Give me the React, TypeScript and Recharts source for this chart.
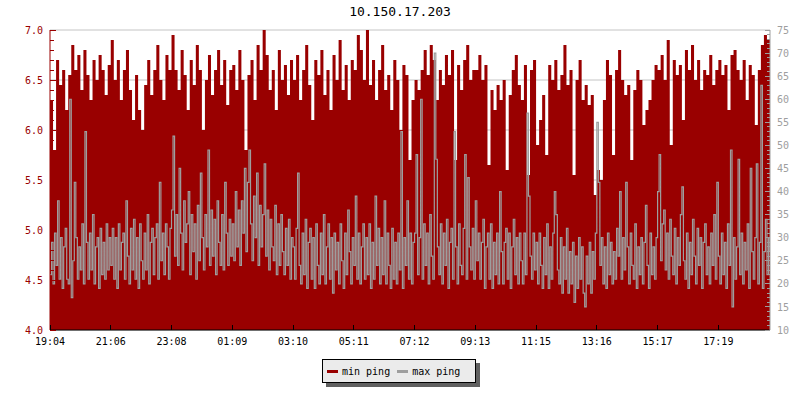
import React from 'react';
import { ComposedChart, Area, Line, XAxis, YAxis, CartesianGrid, Legend } from 'recharts';

const timeLabels = ['19:04', '21:06', '23:08', '01:09', '03:10', '05:11', '07:12', '09:13', '11:15', '13:16', '15:17', '17:19'];

// min ping (left axis, ms), one value per ~3 px step
const minPing = [
  6.3, 5.8, 6.7, 6.45, 6.6, 6.2, 6.55, 6.85, 6.6, 6.75, 6.4, 6.8, 6.55, 6.3, 6.7, 6.5, 6.75, 6.6, 6.35, 6.65,
  6.9, 6.5, 6.7, 6.3, 6.6, 6.8, 6.4, 6.1, 6.55, 6.2, 6.0, 6.45, 6.7, 6.35, 6.6, 6.85, 6.5, 6.3, 6.75, 6.6,
  6.95, 6.6, 6.4, 6.8, 6.55, 6.2, 6.7, 6.45, 6.85, 6.6, 6.0, 6.5, 6.75, 6.35, 6.6, 6.8, 6.45, 6.7, 6.25, 6.6,
  6.65, 6.4, 6.8, 6.5, 5.8, 6.55, 6.7, 6.3, 6.85, 6.6, 7.0, 6.75, 6.4, 6.6, 6.2, 6.8, 6.5, 6.65, 6.35, 6.7,
  6.5, 6.75, 6.3, 6.6, 6.85, 6.45, 6.1, 6.7, 6.55, 6.8, 6.35, 6.6, 6.2, 6.75, 6.5, 6.9, 6.4, 6.65, 6.3, 6.7,
  6.6, 6.95, 6.8, 6.5, 7.0, 6.45, 6.7, 6.3, 6.6, 6.85, 6.4, 6.55, 6.2, 6.7, 6.5, 6.0, 6.65, 6.55, 5.7, 6.3,
  6.5, 6.4, 6.6, 6.8, 6.55, 6.85, 6.7, 6.3, 6.6, 6.45, 6.75, 6.55, 6.8, 5.7, 6.65, 6.4, 6.7, 6.85, 6.5, 6.6,
  6.6, 6.75, 6.5, 6.65, 5.65, 6.4, 6.2, 6.45, 6.3, 6.5, 5.6, 6.35, 6.6, 6.75, 6.45, 6.3, 6.65, 5.55, 6.6, 6.7,
  5.85, 6.1, 6.35, 5.75, 6.65, 6.5, 6.7, 6.4, 6.55, 6.85, 6.45, 6.6, 5.55, 6.5, 6.7, 6.3, 6.45, 6.25, 6.35, 5.35,
  5.6, 5.5, 6.3, 6.7, 6.55, 5.75, 6.6, 6.8, 6.5, 6.35, 6.45, 5.7, 6.4, 6.6, 6.5, 6.05, 6.2, 6.3, 6.5, 6.65,
  6.6, 6.75, 6.5, 6.9, 5.85, 6.7, 6.55, 6.65, 6.1, 6.8, 6.6, 6.85, 6.5, 6.7, 6.4, 6.6, 6.55, 6.75, 6.45, 6.6,
  6.7, 6.55, 6.65, 6.2, 6.75, 6.8, 6.6, 6.5, 6.7, 6.3, 6.65, 6.55, 6.05, 6.6, 6.85, 6.95, 6.9, 6.7,
];

// max ping (right axis, ms), one value per ~1.5 px step
const maxPing = [
  22, 29, 20, 31, 24, 38, 21, 30, 19, 28, 32, 21, 20, 60, 17, 25, 42, 30, 21, 28,
  23, 33, 20, 53, 29, 21, 31, 23, 35, 20, 28, 30, 19, 32, 22, 29, 21, 33, 23, 30,
  24, 32, 21, 30, 19, 33, 23, 29, 31, 21, 38, 26, 20, 32, 23, 34, 21, 30, 19, 33,
  25, 21, 31, 23, 35, 20, 29, 32, 22, 30, 33, 21, 42, 25, 31, 22, 33, 28, 21, 32,
  36, 52, 26, 35, 24, 45, 31, 23, 38, 29, 33, 40, 22, 35, 27, 33, 21, 37, 25, 44,
  30, 23, 35, 28, 49, 24, 36, 26, 34, 22, 38, 29, 24, 35, 23, 42, 31, 24, 34, 26,
  33, 25, 40, 28, 36, 24, 38, 31, 45, 27, 42, 49, 33, 25, 39, 30, 44, 24, 37, 28,
  35, 46, 26, 36, 23, 34, 28, 25, 37, 22, 33, 24, 35, 27, 22, 32, 24, 34, 21, 30,
  28, 21, 32, 44, 24, 20, 31, 22, 34, 19, 29, 32, 21, 30, 19, 33, 24, 20, 31, 22,
  35, 20, 28, 33, 21, 30, 18, 31, 23, 29, 20, 33, 25, 19, 31, 22, 36, 27, 20, 30,
  24, 39, 21, 31, 20, 28, 33, 21, 30, 22, 33, 19, 29, 21, 39, 24, 32, 20, 30, 22,
  38, 20, 31, 24, 19, 32, 21, 29, 20, 31, 23, 53, 19, 30, 24, 38, 21, 31, 20, 29,
  31, 48, 22, 30, 60, 21, 33, 24, 31, 20, 35, 26, 21, 70, 47, 28, 22, 33, 20, 31,
  24, 34, 19, 29, 32, 21, 53, 28, 20, 33, 24, 22, 32, 48, 21, 43, 28, 23, 32, 21,
  38, 25, 31, 21, 29, 34, 19, 28, 31, 21, 33, 19, 29, 22, 31, 20, 40, 27, 20, 29,
  32, 21, 31, 19, 28, 34, 22, 30, 20, 31, 25, 20, 31, 22, 57, 39, 26, 21, 31, 23,
  29, 20, 31, 24, 19, 30, 22, 33, 19, 28, 21, 31, 40, 35, 23, 20, 30, 18, 28, 21,
  32, 18, 27, 20, 29, 16, 26, 19, 30, 21, 28, 18, 15, 26, 20, 29, 18, 27, 21, 31,
  55, 42, 24, 30, 20, 28, 19, 31, 22, 29, 20, 27, 21, 32, 26, 40, 21, 30, 23, 42,
  28, 20, 31, 24, 21, 33, 19, 28, 22, 30, 20, 29, 37, 24, 19, 31, 22, 28, 21, 30,
  40, 48, 25, 33, 36, 23, 31, 21, 34, 26, 22, 32, 20, 30, 24, 35, 41, 25, 21, 31,
  19, 29, 22, 34, 26, 20, 32, 24, 30, 19, 29, 33, 22, 28, 20, 31, 24, 35, 21, 42,
  26, 20, 31, 22, 29, 19, 33, 24, 49, 15, 30, 21, 28, 47, 22, 31, 20, 29, 23, 33,
  19, 45, 27, 21, 30, 46, 20, 29, 63, 19, 27, 34, 22, 30, 27,
];

const TITLE = '10.150.17.203';
const RED = '#990000';
const GRAY = '#9e9e9e';
const FONT = '"DejaVu Sans Mono", monospace';

const minData = minPing.map((v, i) => ({ t: i, min: v }));
const maxData = maxPing.map((v, j) => ({ t: j / 2, max: v }));
const xTicks = timeLabels.map((_, i) => i * 20);
const leftTicks = Array.from({ length: 31 }, (_, i) => Math.round((4 + i * 0.1) * 10) / 10);
const rightTicks = Array.from({ length: 66 }, (_, i) => 10 + i);
const gridValues = [4, 4.5, 5, 5.5, 6, 6.5, 7];
const seriesColors: Record<string, string> = { min: RED, max: GRAY };
const legendOrder = ['min', 'max'];

const LeftTick = (props: any) => {
  const { x, y, payload } = props;
  const v = payload.value;
  const major = Math.abs(v * 2 - Math.round(v * 2)) < 1e-6;
  return (
    <g>
      <line x1={x} y1={y} x2={x + (major ? 6 : 4)} y2={y} stroke={RED} shapeRendering="crispEdges" />
      {major && (
        <text x={x - 7} y={y} dy="0.36em" textAnchor="end" fill={RED} fontSize={10} fontFamily={FONT}>
          {v.toFixed(1)}
        </text>
      )}
    </g>
  );
};

const RightTick = (props: any) => {
  const { x, y, payload } = props;
  const v = payload.value;
  const major = v % 5 === 0;
  return (
    <g>
      <line x1={x} y1={y} x2={x - (major ? 5 : 3)} y2={y} stroke={GRAY} shapeRendering="crispEdges" />
      {major && (
        <text x={x + 7} y={y} dy="0.36em" textAnchor="start" fill={GRAY} fontSize={10} fontFamily={FONT}>
          {v}
        </text>
      )}
    </g>
  );
};

const BottomTick = (props: any) => {
  const { x, y, payload } = props;
  const label = timeLabels[Math.round(payload.value / 20)];
  return (
    <g>
      <line x1={x} y1={y} x2={x} y2={y - 5} stroke="#000" shapeRendering="crispEdges" />
      <text x={x} y={y + 15} textAnchor="middle" fill="#000" fontSize={10} fontFamily={FONT}>
        {label}
      </text>
    </g>
  );
};

const LegendBox = (props: any) => {
  const items = [...(props.payload || [])].sort(
    (a: any, b: any) => legendOrder.indexOf(a.dataKey) - legendOrder.indexOf(b.dataKey)
  );
  return (
    <div
      style={{
        boxSizing: 'border-box',
        width: 154,
        height: 24,
        background: '#ebebeb',
        border: '1px solid #000',
        boxShadow: '4px 4px 0 #606060',
        display: 'flex',
        alignItems: 'center',
        paddingLeft: 4,
        fontFamily: FONT,
        fontSize: 10,
        color: '#000',
      }}
    >
      {items.map((entry: any, i: number) => (
        <span key={i} style={{ display: 'inline-flex', alignItems: 'center', marginRight: 7 }}>
          <span
            style={{
              display: 'inline-block',
              width: 11,
              height: 3,
              background: seriesColors[entry.dataKey] || entry.color,
              marginRight: 4,
            }}
          />
          {entry.value}
        </span>
      ))}
    </div>
  );
};

export default function App() {
  return (
    <div style={{ position: 'absolute', left: 0, top: 0, width: 800, height: 400, background: '#fff' }}>
      <div
        style={{
          position: 'absolute',
          left: 0,
          top: 4,
          width: 800,
          textAlign: 'center',
          fontFamily: FONT,
          fontSize: 13,
          lineHeight: '16px',
          color: '#000',
        }}
      >
        {TITLE}
      </div>
      <ComposedChart width={800} height={400} data={minData} margin={{ top: 30, right: 0, bottom: 40, left: 0 }}>
        <CartesianGrid yAxisId="left" vertical={false} horizontalValues={gridValues} stroke="#c4c4c4" />
        <XAxis
          dataKey="t"
          type="number"
          domain={[0, 237]}
          ticks={xTicks}
          interval={0}
          height={30}
          tickSize={0}
          tickMargin={0}
          tick={<BottomTick />}
          axisLine={{ stroke: '#000' }}
          tickLine={false}
          allowDataOverflow
        />
        <YAxis
          yAxisId="left"
          orientation="left"
          type="number"
          domain={[4, 7]}
          ticks={leftTicks}
          interval={0}
          width={50}
          tickSize={0}
          tickMargin={0}
          tick={<LeftTick />}
          axisLine={{ stroke: RED }}
          tickLine={false}
          allowDataOverflow
        />
        <YAxis
          yAxisId="right"
          orientation="right"
          type="number"
          domain={[10, 75]}
          ticks={rightTicks}
          interval={0}
          width={30}
          tickSize={0}
          tickMargin={0}
          tick={<RightTick />}
          axisLine={{ stroke: GRAY }}
          tickLine={false}
          allowDataOverflow
        />
        <Area
          yAxisId="left"
          dataKey="min"
          name="min ping"
          type="stepAfter"
          fill={RED}
          fillOpacity={1}
          stroke="none"
          baseValue={4}
          isAnimationActive={false}
          activeDot={false}
          dot={false}
        />
        <Line
          yAxisId="right"
          data={maxData}
          dataKey="max"
          name="max ping"
          type="stepAfter"
          stroke={GRAY}
          strokeWidth={1.2}
          dot={false}
          activeDot={false}
          isAnimationActive={false}
        />
        <Legend
          layout="horizontal"
          verticalAlign="middle"
          align="center"
          wrapperStyle={{ left: 322, top: 359, width: 160, height: 28 }}
          content={<LegendBox />}
        />
      </ComposedChart>
    </div>
  );
}
